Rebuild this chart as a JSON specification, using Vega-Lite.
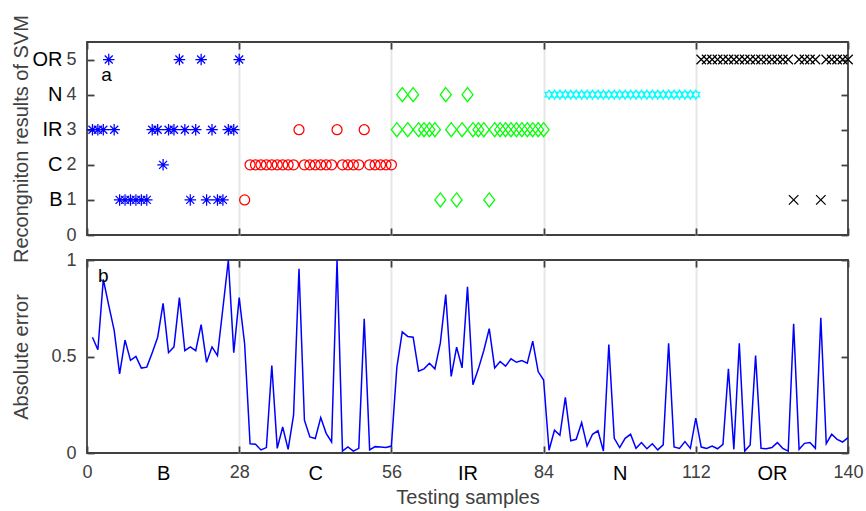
{
  "$schema": "https://vega.github.io/schema/vega-lite/v6.json",
  "background": "white",
  "padding": {"left": 10, "top": 13, "right": 0, "bottom": 0},
  "config": {
    "font": "Liberation Sans",
    "view": {"stroke": "#404040", "strokeWidth": 1.8},
    "axis": {
      "domain": false,
      "grid": false,
      "labelFont": "Liberation Sans",
      "titleFont": "Liberation Sans",
      "labelColor": "#404040",
      "titleColor": "#404040",
      "titleFontWeight": "normal",
      "labelFontSize": 18,
      "titleFontSize": 20,
      "tickColor": "#404040",
      "tickWidth": 1.8,
      "tickSize": -7,
      "labelFlush": false,
      "labelOverlap": false
    }
  },
  "datasets": {
    "samples": [
      {"i":1,"truth":"B","pred":3,"err":0.6},{"i":2,"truth":"B","pred":3,"err":0.535},{"i":3,"truth":"B","pred":3,"err":0.9},{"i":4,"truth":"B","pred":5,"err":0.765},
      {"i":5,"truth":"B","pred":3,"err":0.635},{"i":6,"truth":"B","pred":1,"err":0.41},{"i":7,"truth":"B","pred":1,"err":0.585},{"i":8,"truth":"B","pred":1,"err":0.48},
      {"i":9,"truth":"B","pred":1,"err":0.5},{"i":10,"truth":"B","pred":1,"err":0.44},{"i":11,"truth":"B","pred":1,"err":0.445},{"i":12,"truth":"B","pred":3,"err":0.52},
      {"i":13,"truth":"B","pred":3,"err":0.6},{"i":14,"truth":"B","pred":2,"err":0.775},{"i":15,"truth":"B","pred":3,"err":0.52},{"i":16,"truth":"B","pred":3,"err":0.55},
      {"i":17,"truth":"B","pred":5,"err":0.805},{"i":18,"truth":"B","pred":3,"err":0.53},{"i":19,"truth":"B","pred":1,"err":0.55},{"i":20,"truth":"B","pred":3,"err":0.53},
      {"i":21,"truth":"B","pred":5,"err":0.665},{"i":22,"truth":"B","pred":1,"err":0.47},{"i":23,"truth":"B","pred":3,"err":0.55},{"i":24,"truth":"B","pred":1,"err":0.505},
      {"i":25,"truth":"B","pred":1,"err":0.75},{"i":26,"truth":"B","pred":3,"err":1.0},{"i":27,"truth":"B","pred":3,"err":0.52},{"i":28,"truth":"B","pred":5,"err":0.805},
      {"i":29,"truth":"C","pred":1,"err":0.565},{"i":30,"truth":"C","pred":2,"err":0.048},{"i":31,"truth":"C","pred":2,"err":0.045},{"i":32,"truth":"C","pred":2,"err":0.016},
      {"i":33,"truth":"C","pred":2,"err":0.028},{"i":34,"truth":"C","pred":2,"err":0.453},{"i":35,"truth":"C","pred":2,"err":0.024},{"i":36,"truth":"C","pred":2,"err":0.135},
      {"i":37,"truth":"C","pred":2,"err":0.019},{"i":38,"truth":"C","pred":2,"err":0.196},{"i":39,"truth":"C","pred":3,"err":0.955},{"i":40,"truth":"C","pred":2,"err":0.17},
      {"i":41,"truth":"C","pred":2,"err":0.083},{"i":42,"truth":"C","pred":2,"err":0.075},{"i":43,"truth":"C","pred":2,"err":0.184},{"i":44,"truth":"C","pred":2,"err":0.102},
      {"i":45,"truth":"C","pred":2,"err":0.057},{"i":46,"truth":"C","pred":3,"err":1.0},{"i":47,"truth":"C","pred":2,"err":0.01},{"i":48,"truth":"C","pred":2,"err":0.031},
      {"i":49,"truth":"C","pred":2,"err":0.01},{"i":50,"truth":"C","pred":2,"err":0.024},{"i":51,"truth":"C","pred":3,"err":0.696},{"i":52,"truth":"C","pred":2,"err":0.016},
      {"i":53,"truth":"C","pred":2,"err":0.033},{"i":54,"truth":"C","pred":2,"err":0.031},{"i":55,"truth":"C","pred":2,"err":0.028},{"i":56,"truth":"C","pred":2,"err":0.036},
      {"i":57,"truth":"IR","pred":3,"err":0.444},{"i":58,"truth":"IR","pred":4,"err":0.627},{"i":59,"truth":"IR","pred":3,"err":0.604},{"i":60,"truth":"IR","pred":4,"err":0.6},
      {"i":61,"truth":"IR","pred":3,"err":0.424},{"i":62,"truth":"IR","pred":3,"err":0.436},{"i":63,"truth":"IR","pred":3,"err":0.465},{"i":64,"truth":"IR","pred":3,"err":0.436},
      {"i":65,"truth":"IR","pred":1,"err":0.569},{"i":66,"truth":"IR","pred":4,"err":0.821},{"i":67,"truth":"IR","pred":3,"err":0.397},{"i":68,"truth":"IR","pred":1,"err":0.548},
      {"i":69,"truth":"IR","pred":3,"err":0.441},{"i":70,"truth":"IR","pred":4,"err":0.861},{"i":71,"truth":"IR","pred":3,"err":0.354},{"i":72,"truth":"IR","pred":3,"err":0.436},
      {"i":73,"truth":"IR","pred":3,"err":0.531},{"i":74,"truth":"IR","pred":1,"err":0.644},{"i":75,"truth":"IR","pred":3,"err":0.441},{"i":76,"truth":"IR","pred":3,"err":0.474},
      {"i":77,"truth":"IR","pred":3,"err":0.45},{"i":78,"truth":"IR","pred":3,"err":0.488},{"i":79,"truth":"IR","pred":3,"err":0.47},{"i":80,"truth":"IR","pred":3,"err":0.479},
      {"i":81,"truth":"IR","pred":3,"err":0.465},{"i":82,"truth":"IR","pred":3,"err":0.58},{"i":83,"truth":"IR","pred":3,"err":0.422},{"i":84,"truth":"IR","pred":3,"err":0.378},
      {"i":85,"truth":"N","pred":4,"err":0.014},{"i":86,"truth":"N","pred":4,"err":0.118},{"i":87,"truth":"N","pred":4,"err":0.092},{"i":88,"truth":"N","pred":4,"err":0.288},
      {"i":89,"truth":"N","pred":4,"err":0.063},{"i":90,"truth":"N","pred":4,"err":0.071},{"i":91,"truth":"N","pred":4,"err":0.158},{"i":92,"truth":"N","pred":4,"err":0.036},
      {"i":93,"truth":"N","pred":4,"err":0.097},{"i":94,"truth":"N","pred":4,"err":0.115},{"i":95,"truth":"N","pred":4,"err":0.01},{"i":96,"truth":"N","pred":4,"err":0.5625},
      {"i":97,"truth":"N","pred":4,"err":0.076},{"i":98,"truth":"N","pred":4,"err":0.028},{"i":99,"truth":"N","pred":4,"err":0.076},{"i":100,"truth":"N","pred":4,"err":0.097},
      {"i":101,"truth":"N","pred":4,"err":0.024},{"i":102,"truth":"N","pred":4,"err":0.054},{"i":103,"truth":"N","pred":4,"err":0.022},{"i":104,"truth":"N","pred":4,"err":0.048},
      {"i":105,"truth":"N","pred":4,"err":0.016},{"i":106,"truth":"N","pred":4,"err":0.042},{"i":107,"truth":"N","pred":4,"err":0.569},{"i":108,"truth":"N","pred":4,"err":0.031},
      {"i":109,"truth":"N","pred":4,"err":0.024},{"i":110,"truth":"N","pred":4,"err":0.059},{"i":111,"truth":"N","pred":4,"err":0.024},{"i":112,"truth":"N","pred":4,"err":0.181},
      {"i":113,"truth":"OR","pred":5,"err":0.031},{"i":114,"truth":"OR","pred":5,"err":0.024},{"i":115,"truth":"OR","pred":5,"err":0.036},{"i":116,"truth":"OR","pred":5,"err":0.022},
      {"i":117,"truth":"OR","pred":5,"err":0.045},{"i":118,"truth":"OR","pred":5,"err":0.436},{"i":119,"truth":"OR","pred":5,"err":0.019},{"i":120,"truth":"OR","pred":5,"err":0.569},
      {"i":121,"truth":"OR","pred":5,"err":0.01},{"i":122,"truth":"OR","pred":5,"err":0.042},{"i":123,"truth":"OR","pred":5,"err":0.505},{"i":124,"truth":"OR","pred":5,"err":0.024},
      {"i":125,"truth":"OR","pred":5,"err":0.022},{"i":126,"truth":"OR","pred":5,"err":0.028},{"i":127,"truth":"OR","pred":5,"err":0.054},{"i":128,"truth":"OR","pred":5,"err":0.024},
      {"i":129,"truth":"OR","pred":5,"err":0.01},{"i":130,"truth":"OR","pred":1,"err":0.67},{"i":131,"truth":"OR","pred":5,"err":0.019},{"i":132,"truth":"OR","pred":5,"err":0.05},
      {"i":133,"truth":"OR","pred":5,"err":0.054},{"i":134,"truth":"OR","pred":5,"err":0.024},{"i":135,"truth":"OR","pred":1,"err":0.7},{"i":136,"truth":"OR","pred":5,"err":0.048},
      {"i":137,"truth":"OR","pred":5,"err":0.097},{"i":138,"truth":"OR","pred":5,"err":0.071},{"i":139,"truth":"OR","pred":5,"err":0.057},{"i":140,"truth":"OR","pred":5,"err":0.08}
    ]
  },
  "spacing": 25,
  "bounds": "flush",
  "vconcat": [
    {
      "width": 761,
      "height": 193,
      "layer": [
        {
          "data": {"name": "samples"},
          "mark": {"type": "point", "filled": false, "size": 100, "strokeWidth": 1.25, "opacity": 1},
          "encoding": {
            "x": {
              "field": "i", "type": "quantitative",
              "scale": {"domain": [0, 140], "nice": false, "zero": false},
              "axis": {
                "orient": "bottom", "values": [0, 28, 56, 84, 112, 140], "labels": false, "title": null,
                "grid": true, "gridColor": "#e6e6e6", "gridWidth": 2,
                "gridOpacity": {"condition": {"test": "datum.value == 0 || datum.value == 140", "value": 0}, "value": 1}
              }
            },
            "y": {
              "field": "pred", "type": "quantitative",
              "scale": {"domain": [0, 5.5], "nice": false},
              "axis": {
                "orient": "left", "values": [0, 1, 2, 3, 4, 5], "labelPadding": 18,
                "title": "Recongniton results of SVM", "titleX": -66, "titleBaseline": "middle", "titleAngle": 270
              }
            },
            "color": {
              "field": "truth", "type": "nominal", "legend": null,
              "scale": {"domain": ["B", "C", "IR", "N", "OR"], "range": ["#0000ff", "#ff0000", "#00ff00", "#00ffff", "#000000"]}
            },
            "shape": {
              "field": "truth", "type": "nominal", "legend": null,
              "scale": {
                "domain": ["B", "C", "IR", "N", "OR"],
                "range": [
                  "M-1.15,0L1.15,0M0,-1.15L0,1.15M-0.8,-0.8L0.8,0.8M-0.8,0.8L0.8,-0.8",
                  "circle",
                  "M0,-1.4L1.1,0L0,1.4L-1.1,0Z",
                  "M0,-0.9L0.26,-0.45L0.78,-0.45L0.52,0L0.78,0.45L0.26,0.45L0,0.9L-0.26,0.45L-0.78,0.45L-0.52,0L-0.78,-0.45L-0.26,-0.45Z",
                  "M-0.95,-0.95L0.95,0.95M-0.95,0.95L0.95,-0.95"
                ]
              }
            }
          }
        },
        {
          "data": {"values": [{}]},
          "mark": {"type": "text", "fontSize": 19, "color": "#000000", "font": "Liberation Sans"},
          "encoding": {
            "x": {
              "datum": 3.6, "type": "quantitative",
              "axis": {"orient": "top", "values": [0, 28, 56, 84, 112, 140], "labels": false, "title": null}
            },
            "y": {
              "datum": 4.56, "type": "quantitative",
              "axis": {
                "orient": "left", "values": [1, 2, 3, 4, 5], "ticks": false, "title": null,
                "labelExpr": "['', 'B', 'C', 'IR', 'N', 'OR'][datum.value]",
                "labelColor": "#000000", "labelFontSize": 20, "labelPadding": 25
              }
            },
            "text": {"value": "a"}
          }
        },
        {
          "data": {"values": [{}]},
          "mark": {"type": "text", "text": ""},
          "encoding": {
            "y": {
              "datum": 0, "type": "quantitative",
              "axis": {"orient": "right", "values": [0, 1, 2, 3, 4, 5], "labels": false, "title": null}
            }
          }
        }
      ],
      "resolve": {"axis": {"x": "independent", "y": "independent"}}
    },
    {
      "width": 761,
      "height": 193,
      "layer": [
        {
          "data": {"name": "samples"},
          "mark": {"type": "line", "color": "#0000ff", "strokeWidth": 1.5},
          "encoding": {
            "x": {
              "field": "i", "type": "quantitative",
              "scale": {"domain": [0, 140], "nice": false, "zero": false},
              "axis": {
                "orient": "bottom",
                "values": [0, 14, 28, 42, 56, 70, 84, 98, 112, 126, 140],
                "labelExpr": "datum.value % 28 == 0 ? datum.label : ['B', 'C', 'IR', 'N', 'OR'][floor(datum.value / 28)]",
                "labelColor": {"condition": {"test": "datum.value % 28 != 0", "value": "#000000"}, "value": "#404040"},
                "labelFontSize": {"condition": {"test": "datum.value % 28 != 0", "value": 20}, "value": 18},
                "tickOpacity": {"condition": {"test": "datum.value % 28 != 0", "value": 0}, "value": 1},
                "labelPadding": 17,
                "grid": true, "gridColor": "#e6e6e6", "gridWidth": 2,
                "gridOpacity": {"condition": {"test": "datum.value % 28 != 0 || datum.value == 0 || datum.value == 140", "value": 0}, "value": 1},
                "title": "Testing samples", "titleY": 44, "titleBaseline": "middle"
              }
            },
            "y": {
              "field": "err", "type": "quantitative",
              "scale": {"domain": [0, 1], "nice": false},
              "axis": {
                "orient": "left", "values": [0, 0.5, 1], "format": ".1~f", "labelPadding": 18,
                "title": "Absolute error", "titleX": -66, "titleBaseline": "middle", "titleAngle": 270
              }
            }
          }
        },
        {
          "data": {"values": [{}]},
          "mark": {"type": "text", "fontSize": 19, "color": "#000000", "font": "Liberation Sans"},
          "encoding": {
            "x": {
              "datum": 3.0, "type": "quantitative",
              "axis": {"orient": "top", "values": [0, 28, 56, 84, 112, 140], "labels": false, "title": null}
            },
            "y": {
              "datum": 0.915, "type": "quantitative",
              "axis": {"orient": "right", "values": [0, 0.5, 1], "labels": false, "title": null}
            },
            "text": {"value": "b"}
          }
        }
      ],
      "resolve": {"axis": {"x": "independent", "y": "independent"}}
    }
  ]
}
